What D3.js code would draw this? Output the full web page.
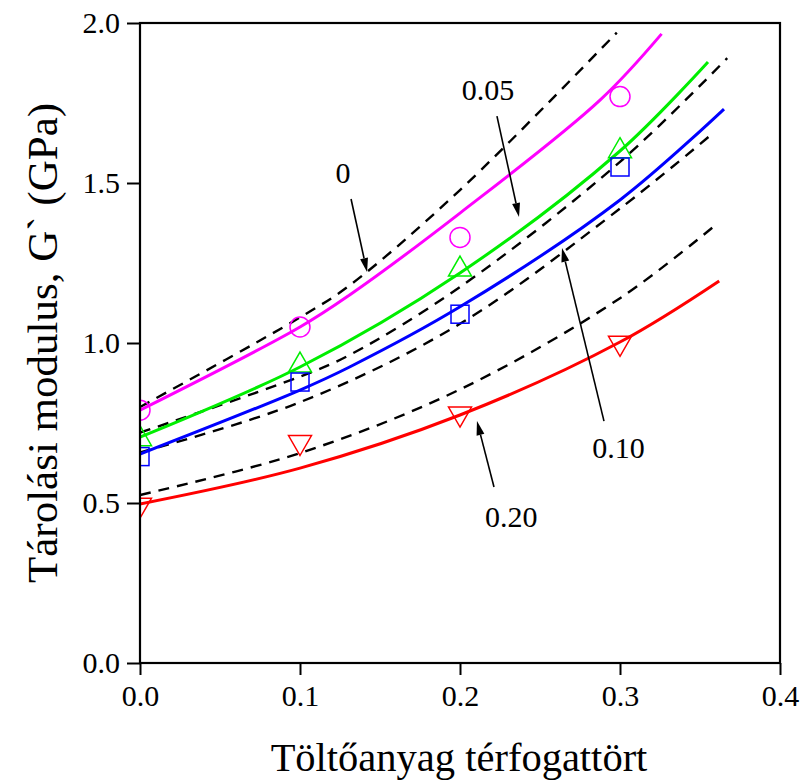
<!DOCTYPE html>
<html><head><meta charset="utf-8">
<script src="https://cdn.jsdelivr.net/npm/d3@7"></script>
<style>
body{margin:0;background:#fff;}
svg text{font-family:"Liberation Serif","Times New Roman",serif;fill:#000;}
</style></head>
<body><svg id="chart" width="802" height="780"></svg>
<script>
// ---- data ----
const xTicks = [0.0, 0.1, 0.2, 0.3, 0.4];
const yTicks = [0.0, 0.5, 1.0, 1.5, 2.0];
const xLabel = "Töltőanyag térfogattört";
const yLabel = "Tárolási modulus, G` (GPa)";

// solid model curves
const fit0X   = [0, 0.1, 0.131, 0.2, 0.2875, 0.326];
const fit0Y   = [0.79, 1.05, 1.15, 1.406, 1.759, 1.966];
const fit05X  = [0, 0.1, 0.2, 0.3, 0.355];
const fit05Y  = [0.706, 0.925, 1.219, 1.60, 1.878];
const fit10X  = [0, 0.1, 0.131, 0.2, 0.3, 0.365];
const fit10Y  = [0.653, 0.853, 0.925, 1.113, 1.447, 1.731];
const fit20X  = [0, 0.1, 0.2, 0.3, 0.362];
const fit20Y  = [0.497, 0.609, 0.775, 1.003, 1.194];

// dashed curves
const dash0X  = [0, 0.1, 0.131, 0.2, 0.298];
const dash0Y  = [0.80, 1.08, 1.18, 1.478, 1.97];
const dash05X = [0, 0.1, 0.131, 0.2, 0.3, 0.367];
const dash05Y = [0.72, 0.895, 0.9625, 1.175, 1.566, 1.89];
const dash10X = [0, 0.1, 0.2, 0.3, 0.358];
const dash10Y = [0.658, 0.815, 1.06, 1.42, 1.655];
const dash20X = [0, 0.1, 0.2, 0.3, 0.36];
const dash20Y = [0.525, 0.656, 0.855, 1.14, 1.37];

// measured points
const measX   = [0, 0.1, 0.2, 0.3];
const meas0   = [0.79, 1.05, 1.33, 1.77];
const meas05  = [0.70, 0.93, 1.23, 1.60];
const meas10  = [0.645, 0.878, 1.09, 1.55];
const meas20  = [0.494, 0.69, 0.779, 1.0];

// annotations: label, label x, label baseline y, arrow from (x,y) to (x,y)
const annLabels = ["0", "0.05", "0.10", "0.20"];
const annTextX  = [0.1269, 0.2175, 0.299, 0.232];
const annTextY  = [1.50, 1.759, 0.641, 0.425];
const annFromX  = [0.1319, 0.2231, 0.29, 0.22125];
const annFromY  = [1.45, 1.709, 0.756, 0.55];
const annToX    = [0.1419, 0.2369, 0.26375, 0.2106];
const annToY    = [1.222, 1.394, 1.297, 0.756];

// ---- drawing ----
const svg = d3.select("#chart");
const L = 140, R = 780, T = 23, B = 663;
const x = d3.scaleLinear().domain([0, 0.4]).range([L, R]);
const y = d3.scaleLinear().domain([0, 2.0]).range([B, T]);

svg.append("defs").append("clipPath").attr("id", "clip")
  .append("rect").attr("x", L).attr("y", T).attr("width", R - L).attr("height", B - T);

const plot = svg.append("g").attr("clip-path", "url(#clip)");
const line = d3.line().x(d => x(d[0])).y(d => y(d[1])).curve(d3.curveCatmullRom.alpha(0.5));
const zip = (a, b) => a.map((v, i) => [v, b[i]]);

// dashed lines
[[dash0X, dash0Y], [dash05X, dash05Y], [dash10X, dash10Y], [dash20X, dash20Y]].forEach(([xs, ys]) => {
  plot.append("path").attr("d", line(zip(xs, ys)))
    .attr("fill", "none").attr("stroke", "#000").attr("stroke-width", 2.4)
    .attr("stroke-dasharray", "11,8");
});

// solid lines
const solid = [
  [fit0X, fit0Y, "#ff00ff"],
  [fit05X, fit05Y, "#00ee00"],
  [fit10X, fit10Y, "#0000ff"],
  [fit20X, fit20Y, "#ff0000"]
];
solid.forEach(([xs, ys, c]) => {
  plot.append("path").attr("d", line(zip(xs, ys)))
    .attr("fill", "none").attr("stroke", c).attr("stroke-width", 3);
});

// markers
const mk = plot.append("g").attr("fill", "none").attr("stroke-width", 1.5);
measX.forEach((xv, i) => {
  mk.append("circle").attr("cx", x(xv)).attr("cy", y(meas0[i])).attr("r", 10).attr("stroke", "#ff00ff");
  const tx = x(xv), ty = y(meas05[i]);
  mk.append("path").attr("d", `M${tx},${ty-13.3}L${tx+11.5},${ty+6.7}L${tx-11.5},${ty+6.7}Z`).attr("stroke", "#00ee00");
  mk.append("rect").attr("x", x(xv) - 9).attr("y", y(meas10[i]) - 9).attr("width", 18).attr("height", 18).attr("stroke", "#0000ff");
  const dx = x(xv), dy = y(meas20[i]);
  mk.append("path").attr("d", `M${dx},${dy+13.3}L${dx+11.5},${dy-6.7}L${dx-11.5},${dy-6.7}Z`).attr("stroke", "#ff0000");
});

// annotations
const ann = svg.append("g");
annLabels.forEach((t, i) => {
  ann.append("text").attr("x", x(annTextX[i])).attr("y", y(annTextY[i]))
    .attr("text-anchor", "middle").style("font-size", "30px").text(t);
  const x1 = x(annFromX[i]), y1 = y(annFromY[i]), x2 = x(annToX[i]), y2 = y(annToY[i]);
  const ang = Math.atan2(y2 - y1, x2 - x1);
  const hl = 14, hw = 4;
  const bx = x2 - hl * Math.cos(ang), by = y2 - hl * Math.sin(ang);
  ann.append("line").attr("x1", x1).attr("y1", y1).attr("x2", bx).attr("y2", by)
    .attr("stroke", "#000").attr("stroke-width", 1.6);
  const px = -Math.sin(ang) * hw, py = Math.cos(ang) * hw;
  ann.append("path").attr("d", `M${x2},${y2}L${bx+px},${by+py}L${bx-px},${by-py}Z`).attr("fill", "#000");
});

// axes
const xAxis = svg.append("g").attr("transform", `translate(0,${B})`)
  .call(d3.axisBottom(x).tickValues(xTicks).tickFormat(d3.format(".1f")).tickSize(12).tickPadding(10));
const yAxis = svg.append("g").attr("transform", `translate(${L},0)`)
  .call(d3.axisLeft(y).tickValues(yTicks).tickFormat(d3.format(".1f")).tickSize(13).tickPadding(7));
[xAxis, yAxis].forEach(a => {
  a.select(".domain").remove();
  a.selectAll("line").attr("stroke", "#000").attr("stroke-width", 2);
  a.selectAll("text").style("font-size", "30px").attr("fill", "#000")
    .style("font-family", "'Liberation Serif','Times New Roman',serif");
});
svg.append("rect").attr("x", L).attr("y", T).attr("width", R - L).attr("height", B - T)
  .attr("fill", "none").attr("stroke", "#000").attr("stroke-width", 2.2);

// titles
svg.append("text").attr("x", (L + R) / 2 - 1).attr("y", 771).attr("text-anchor", "middle")
  .style("font-size", "40.5px").text(xLabel);
svg.append("text").attr("transform", `translate(57,${(T + B) / 2}) rotate(-90)`)
  .attr("text-anchor", "middle").style("font-size", "43px").text(yLabel);
</script></body></html>
